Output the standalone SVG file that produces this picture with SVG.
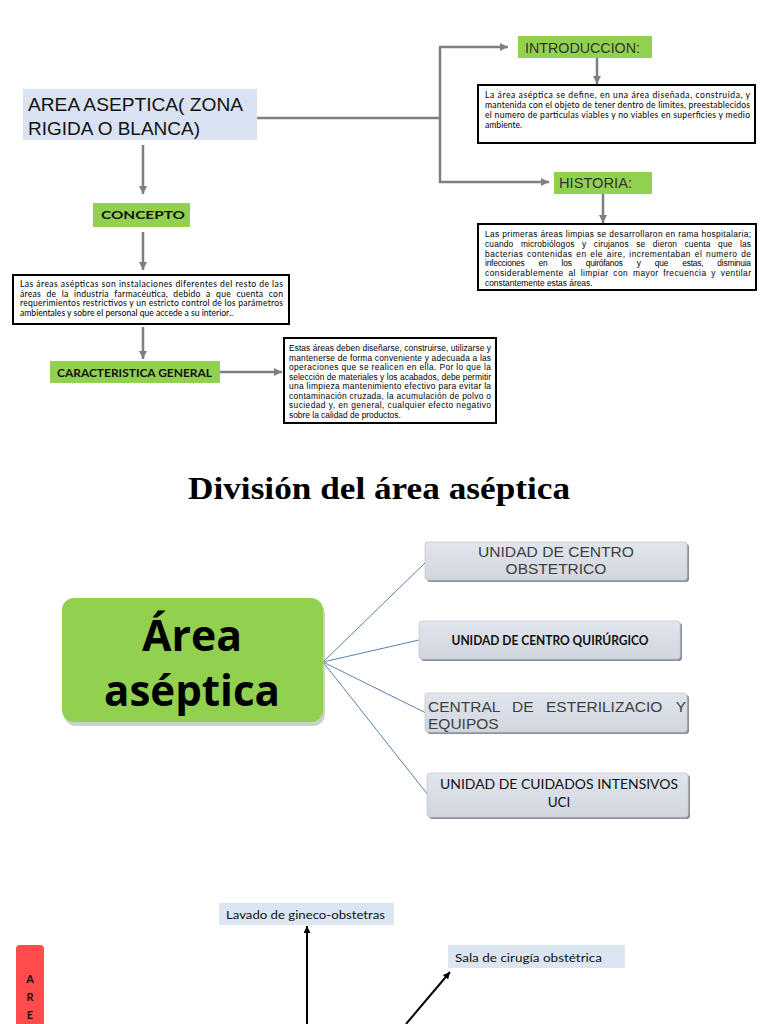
<svg xmlns="http://www.w3.org/2000/svg" width="768" height="1024" viewBox="0 0 768 1024">
<defs>
<marker id="ag" markerUnits="userSpaceOnUse" markerWidth="9" markerHeight="9" refX="8" refY="4" orient="auto"><path d="M0,0 L8,4 L0,8 z" fill="#7f7f7f"/></marker>
<marker id="ak" markerUnits="userSpaceOnUse" markerWidth="8" markerHeight="8" refX="7" refY="3.5" orient="auto"><path d="M0,0 L7,3.5 L0,7 z" fill="#000"/></marker>
<linearGradient id="gb" x1="0" y1="0" x2="0" y2="1"><stop offset="0" stop-color="#e1e5ec"/><stop offset="1" stop-color="#d1d6df"/></linearGradient>
</defs>
<style>
.gc{stroke:#7f7f7f;stroke-width:2.5;fill:none}
.bl{stroke:#5a7fb5;stroke-width:1;fill:none}
.kc{stroke:#000;stroke-width:2;fill:none}
.green{fill:#92d050}
.tb{fill:#fff;stroke:#000;stroke-width:2}
.sm{font-family:Lato,"Liberation Sans",sans-serif;font-size:8.6px;fill:#000}
.ar{font-family:"Liberation Sans",Arial,sans-serif;font-size:8.4px;fill:#000}
.lab{font-family:"Liberation Sans",Arial,sans-serif;font-size:14px;fill:#333}
.cal{font-family:Lato,"Open Sans",sans-serif;font-weight:bold;fill:#111}
.caln{font-family:Lato,"Open Sans",sans-serif;font-weight:normal;fill:#111}
.div{fill:url(#gb);stroke:#c4c9d2;stroke-width:0.8}
.sh{fill:#8c9199}
.dt{font-family:"Liberation Sans",Arial,sans-serif;font-size:15.5px;fill:#404040}
.lb{fill:#dce6f2}
.red{font-family:Lato,sans-serif;font-weight:bold;font-size:11px;fill:#111}
</style>

<g id="connectors">
<line class="gc" x1="257" y1="118" x2="440" y2="118"/>
<line class="gc" x1="440" y1="47" x2="440" y2="183"/>
<line class="gc" x1="439" y1="47" x2="508" y2="47" marker-end="url(#ag)"/>
<line class="gc" x1="439" y1="182" x2="549" y2="182" marker-end="url(#ag)"/>
<line class="gc" x1="597" y1="58" x2="597" y2="84" marker-end="url(#ag)"/>
<line class="gc" x1="603" y1="194" x2="603" y2="223" marker-end="url(#ag)"/>
<line class="gc" x1="143" y1="145" x2="143" y2="194" marker-end="url(#ag)"/>
<line class="gc" x1="143" y1="232" x2="143" y2="270" marker-end="url(#ag)"/>
<line class="gc" x1="143" y1="327" x2="143" y2="359" marker-end="url(#ag)"/>
<line class="gc" x1="220" y1="372" x2="282" y2="372" marker-end="url(#ag)"/>
<line class="bl" x1="323" y1="662" x2="426" y2="562"/>
<line class="bl" x1="323" y1="662" x2="419" y2="640"/>
<line class="bl" x1="323" y1="662" x2="426" y2="713"/>
<line class="bl" x1="323" y1="662" x2="428" y2="795"/>
<line class="kc" x1="307" y1="1024" x2="307" y2="926" marker-end="url(#ak)"/>
<line class="kc" x1="406" y1="1024" x2="450" y2="972" marker-end="url(#ak)"/>
</g>

<g id="titulo">
<rect x="23" y="89" width="234" height="51" fill="#dae3f3"/>
<text x="28" y="111" font-family="'Liberation Sans',Arial,sans-serif" font-size="17.5" fill="#111" textLength="215" lengthAdjust="spacingAndGlyphs">AREA ASEPTICA( ZONA</text>
<text x="28" y="135" font-family="'Liberation Sans',Arial,sans-serif" font-size="17.5" fill="#111" textLength="172" lengthAdjust="spacingAndGlyphs">RIGIDA O BLANCA)</text>
</g>

<g id="introduccion">
<rect class="green" x="518" y="36" width="134" height="22"/>
<text class="lab" x="525" y="53" textLength="115" lengthAdjust="spacingAndGlyphs">INTRODUCCION:</text>
</g>
<g id="introduccion-texto">
<rect class="tb" x="478" y="85" width="277" height="58"/>
<text class="sm" x="485" y="98" textLength="265" lengthAdjust="spacing">La área aséptica se define, en una área diseñada, construida, y</text>
<text class="sm" x="485" y="108" textLength="265" lengthAdjust="spacing">mantenida con el objeto de tener dentro de limites, preestablecidos</text>
<text class="sm" x="485" y="118" textLength="265" lengthAdjust="spacing">el numero de particulas viables y no viables en superficies y medio</text>
<text class="sm" x="485" y="128">ambiente.</text>
</g>

<g id="historia">
<rect class="green" x="554" y="172" width="98" height="22"/>
<text class="lab" x="559" y="188" textLength="73" lengthAdjust="spacingAndGlyphs">HISTORIA:</text>
</g>
<g id="historia-texto">
<rect class="tb" x="478" y="224" width="278" height="66"/>
<text class="ar" x="485" y="237" textLength="266" lengthAdjust="spacing">Las primeras áreas limpias se desarrollaron en rama hospitalaria;</text>
<text class="ar" x="485" y="247" textLength="266" lengthAdjust="spacing" word-spacing="5">cuando microbiólogos y cirujanos se dieron cuenta que las</text>
<text class="ar" x="485" y="256.5" textLength="266" lengthAdjust="spacing" word-spacing="1">bacterias contenidas en ele aire, incrementaban el numero de</text>
<text class="ar" x="485" y="266" textLength="266" lengthAdjust="spacing" word-spacing="12">infecciones en los quirófanos y que estas, disminuia</text>
<text class="ar" x="485" y="276" textLength="266" lengthAdjust="spacing" word-spacing="2">considerablemente al limpiar con mayor frecuencia y ventilar</text>
<text class="ar" x="485" y="285.5">constantemente estas áreas.</text>
</g>

<g id="concepto">
<rect class="green" x="93" y="203" width="97" height="24"/>
<text class="cal" x="101" y="219" font-size="11.5" textLength="84" lengthAdjust="spacingAndGlyphs">CONCEPTO</text>
</g>
<g id="concepto-texto">
<rect class="tb" x="13" y="275" width="276" height="49"/>
<text class="sm" x="20" y="287" textLength="263" lengthAdjust="spacing">Las áreas asépticas son instalaciones diferentes del resto de las</text>
<text class="sm" x="20" y="296.5" textLength="263" lengthAdjust="spacing" word-spacing="3">áreas de la industria farmacéutica, debido a que cuenta con</text>
<text class="sm" x="20" y="306" textLength="263" lengthAdjust="spacing">requerimientos restrictivos y un estricto control de los parámetros</text>
<text class="sm" x="20" y="315.5">ambientales y sobre el personal que accede a su interior..</text>
</g>

<g id="caracteristica">
<rect class="green" x="50" y="361" width="170" height="22"/>
<text class="cal" x="57" y="377" font-size="11.5" textLength="155" lengthAdjust="spacingAndGlyphs">CARACTERISTICA GENERAL</text>
</g>
<g id="caracteristica-texto">
<rect class="tb" x="284" y="338" width="212" height="85"/>
<text class="ar" x="289" y="351" font-size="8" textLength="202" lengthAdjust="spacing">Estas áreas deben diseñarse, construirse, utilizarse y</text>
<text class="ar" x="289" y="360.5" font-size="8" textLength="202" lengthAdjust="spacing">mantenerse de forma conveniente y adecuada a las</text>
<text class="ar" x="289" y="370" font-size="8" textLength="202" lengthAdjust="spacing">operaciones que se realicen en ella. Por lo que la</text>
<text class="ar" x="289" y="379.5" font-size="8" textLength="202" lengthAdjust="spacing">selección de materiales y los acabados, debe permitir</text>
<text class="ar" x="289" y="389" font-size="8" textLength="202" lengthAdjust="spacing">una limpieza  mantenimiento efectivo para evitar la</text>
<text class="ar" x="289" y="398.5" font-size="8" textLength="202" lengthAdjust="spacing">contaminación cruzada, la acumulación de polvo o</text>
<text class="ar" x="289" y="408" font-size="8" textLength="202" lengthAdjust="spacing">suciedad y, en general, cualquier efecto negativo</text>
<text class="ar" x="289" y="417.5" font-size="8">sobre la calidad de productos.</text>
</g>

<g id="division-titulo">
<text x="379" y="499" text-anchor="middle" font-family="'Liberation Serif','Times New Roman',serif" font-weight="bold" font-size="32" fill="#000" textLength="382" lengthAdjust="spacingAndGlyphs">División del área aséptica</text>
</g>

<g id="area-aseptica">
<rect x="64" y="602" width="261" height="124" rx="12" fill="#a9b59c" opacity="0.6"/>
<rect class="green" x="62" y="598" width="261" height="124" rx="12"/>
<text x="192" y="651" text-anchor="middle" font-family="'Open Sans',Lato,sans-serif" font-weight="bold" font-size="43" fill="#000" textLength="100" lengthAdjust="spacingAndGlyphs">Área</text>
<text x="192" y="706" text-anchor="middle" font-family="'Open Sans',Lato,sans-serif" font-weight="bold" font-size="43" fill="#000" textLength="176" lengthAdjust="spacingAndGlyphs">aséptica</text>
</g>

<g id="unidad-obstetrico">
<rect class="sh" x="427" y="544" width="262" height="38" rx="3"/>
<rect class="div" x="425" y="542" width="262" height="38" rx="3"/>
<text class="dt" x="556" y="557" text-anchor="middle" textLength="156" lengthAdjust="spacingAndGlyphs">UNIDAD DE CENTRO</text>
<text class="dt" x="556" y="574" text-anchor="middle">OBSTETRICO</text>
</g>

<g id="unidad-quirurgico">
<rect class="sh" x="421" y="623" width="261" height="38" rx="3"/>
<rect class="div" x="419" y="621" width="261" height="38" rx="3"/>
<text class="cal" x="550" y="645" text-anchor="middle" font-size="12.5" textLength="197" lengthAdjust="spacingAndGlyphs">UNIDAD DE CENTRO QUIRÚRGICO</text>
</g>

<g id="central-esterilizacion">
<rect class="sh" x="427" y="695" width="262" height="39" rx="3"/>
<rect class="div" x="425" y="693" width="262" height="39" rx="3"/>
<text class="dt" x="428" y="712">CENTRAL</text>
<text class="dt" x="512" y="712">DE</text>
<text class="dt" x="546" y="712">ESTERILIZACIO</text>
<text class="dt" x="686" y="712" text-anchor="end">Y</text>
<text class="dt" x="428" y="729">EQUIPOS</text>
</g>

<g id="unidad-uci">
<rect class="sh" x="429" y="775" width="261" height="44" rx="3"/>
<rect class="div" x="427" y="773" width="261" height="44" rx="3"/>
<text class="caln" x="559" y="789" text-anchor="middle" font-size="13.5" textLength="238" lengthAdjust="spacingAndGlyphs">UNIDAD DE CUIDADOS INTENSIVOS</text>
<text class="caln" x="559" y="807" text-anchor="middle" font-size="13.5">UCI</text>
</g>

<g id="lavado">
<rect class="lb" x="219" y="903" width="175" height="22"/>
<text class="caln" x="226" y="919" font-size="11.5" textLength="159" lengthAdjust="spacingAndGlyphs">Lavado de gineco-obstetras</text>
</g>

<g id="sala-cirugia">
<rect class="lb" x="448" y="945" width="177" height="23"/>
<text class="caln" x="455" y="962" font-size="11.5" textLength="147" lengthAdjust="spacingAndGlyphs">Sala de cirugía obstétrica</text>
</g>

<g id="area-roja">
<rect x="16" y="945" width="28" height="90" rx="4" fill="#ff4b4b"/>
<text class="red" x="30" y="983" text-anchor="middle">A</text>
<text class="red" x="30" y="1001" text-anchor="middle">R</text>
<text class="red" x="30" y="1019" text-anchor="middle">E</text>
</g>
</svg>
